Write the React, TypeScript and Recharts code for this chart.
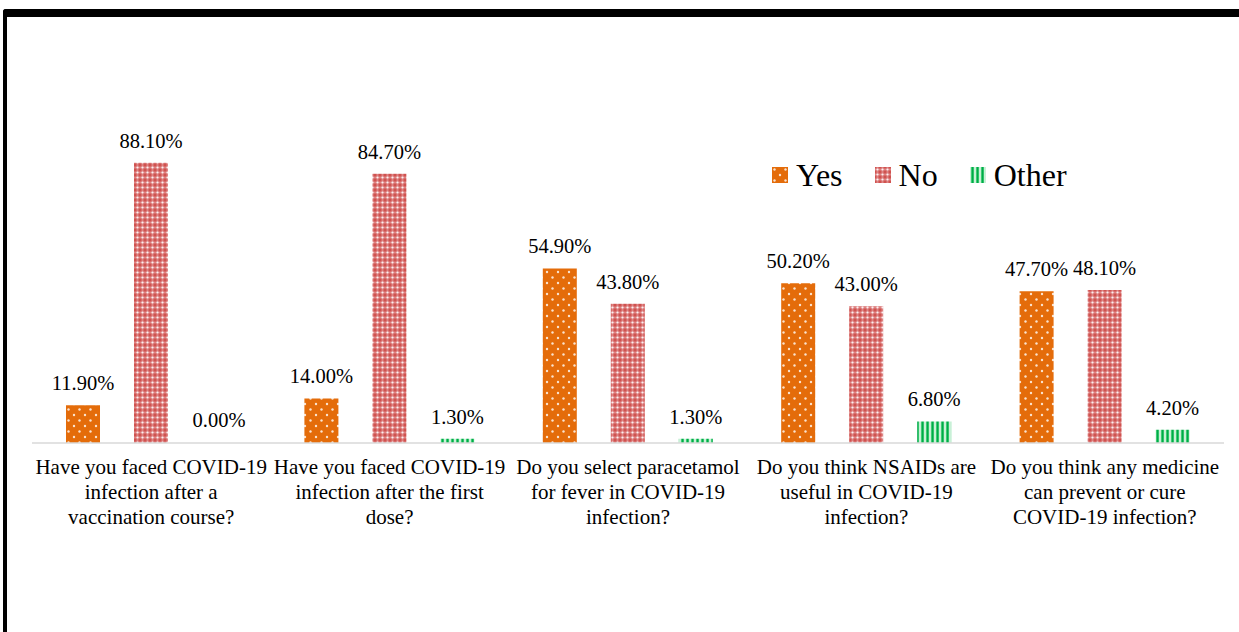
import { Bar, BarChart, LabelList, Legend, Rectangle, XAxis, YAxis } from "recharts"

const categories = [
  "Have you faced COVID-19 infection after a vaccination course?",
  "Have you faced COVID-19 infection after the first dose?",
  "Do you select paracetamol for fever in COVID-19 infection?",
  "Do you think NSAIDs are useful in COVID-19 infection?",
  "Do you think any medicine can prevent or cure COVID-19 infection?",
]

// how each category label wraps in the picture
const tickLines = [
  ["Have you faced COVID-19", "infection after a", "vaccination course?"],
  ["Have you faced COVID-19", "infection after the first", "dose?"],
  ["Do you select paracetamol", "for fever in COVID-19", "infection?"],
  ["Do you think NSAIDs are", "useful in COVID-19", "infection?"],
  ["Do you think any medicine", "can prevent or cure", "COVID-19 infection?"],
]

const yes = [11.9, 14.0, 54.9, 50.2, 47.7]
const no = [88.1, 84.7, 43.8, 43.0, 48.1]
const other = [0.0, 1.3, 1.3, 6.8, 4.2]

const data = categories.map((name, i) => ({
  name,
  yes: yes[i],
  no: no[i],
  other: other[i],
}))

const series = [
  { key: "yes", label: "Yes", fill: "url(#patYes)" },
  { key: "no", label: "No", fill: "url(#patNo)" },
  { key: "other", label: "Other", fill: "url(#patOther)" },
]

const font = "'Liberation Serif', 'Times New Roman', serif"

function CategoryTick(props: any) {
  const { x, y, payload } = props
  const lines = tickLines[payload.index] ?? [payload.value]
  return (
    <text x={x} y={y} textAnchor="middle" fontFamily={font} fontSize={21} fill="#000">
      {lines.map((l: string, i: number) => (
        <tspan key={i} x={x} dy={i === 0 ? 31 : 25}>
          {l}
        </tspan>
      ))}
    </text>
  )
}

// zero-valued bars still need their label, but no visible sliver
function BarShape(props: any) {
  if (!props.value) return <g />
  return <Rectangle {...props} />
}

function LegendContent() {
  return (
    <div style={{ display: "flex", alignItems: "center", fontFamily: font, fontSize: 32, lineHeight: "32px", color: "#000" }}>
      {series.map((s) => (
        <div key={s.key} style={{ display: "flex", alignItems: "center", marginRight: 32 }}>
          <svg width={16} height={16} style={{ marginRight: 8 }}>
            <rect width={16} height={16} fill={s.fill} />
          </svg>
          <span>{s.label}</span>
        </div>
      ))}
    </div>
  )
}

export default function App() {
  return (
    <div style={{ position: "absolute", left: 0, top: 0, width: 1239, height: 632, background: "#fff", overflow: "hidden" }}>
      <div
        style={{
          position: "absolute",
          left: 3,
          top: 9,
          width: 1240,
          height: 640,
          borderTop: "8px solid #000",
          borderLeft: "4px solid #000",
          borderTopLeftRadius: 3,
          boxSizing: "border-box",
        }}
      />
      <BarChart
        width={1239}
        height={632}
        data={data}
        margin={{ top: 125, right: 15, left: 32, bottom: 129 }}
        barSize={34}
        barGap={34}
        style={{ position: "absolute", left: 0, top: 0 }}
      >
        <defs>
          <pattern id="patYes" width={11} height={11} patternUnits="userSpaceOnUse">
            <rect width={11} height={11} fill="#E46C0A" />
            <circle cx={2.5} cy={2.5} r={1.2} fill="#FBE3CF" />
            <circle cx={8} cy={8} r={1.2} fill="#FBE3CF" />
          </pattern>
          <pattern id="patNo" width={5} height={5} patternUnits="userSpaceOnUse">
            <rect width={5} height={5} fill="#D0524F" />
            <rect x={1.5} y={0} width={2} height={5} fill="#DE8585" />
            <rect x={0} y={1.5} width={5} height={2} fill="#DE8585" />
            <circle cx={2.5} cy={2.5} r={1.1} fill="#FCEFEF" />
          </pattern>
          <pattern id="patOther" width={5} height={5} patternUnits="userSpaceOnUse">
            <rect width={5} height={5} fill="#C9F0D7" />
            <rect x={1} width={3} height={5} fill="#3DCB72" />
            <rect x={2} width={1.2} height={5} fill="#00A94A" />
          </pattern>
        </defs>
        <XAxis
          dataKey="name"
          height={60}
          interval={0}
          tickLine={false}
          tickSize={0}
          tickMargin={0}
          stroke="#D9D9D9"
          strokeWidth={1.5}
          tick={<CategoryTick />}
        />
        <YAxis hide domain={[0, 100]} />
        <Legend
          verticalAlign="middle"
          align="center"
          content={<LegendContent />}
          wrapperStyle={{ position: "absolute", left: 772, top: 159, width: "auto" }}
        />
        {series.map((s) => (
          <Bar
            key={s.key}
            dataKey={s.key}
            name={s.label}
            fill={s.fill}
            minPointSize={1}
            shape={<BarShape />}
            isAnimationActive={false}
          >
            <LabelList
              dataKey={s.key}
              position="top"
              offset={15}
              formatter={(v: any) => `${Number(v).toFixed(2)}%`}
              style={{ fontFamily: font, fontSize: 20.5, fill: "#000" }}
            />
          </Bar>
        ))}
      </BarChart>
    </div>
  )
}
